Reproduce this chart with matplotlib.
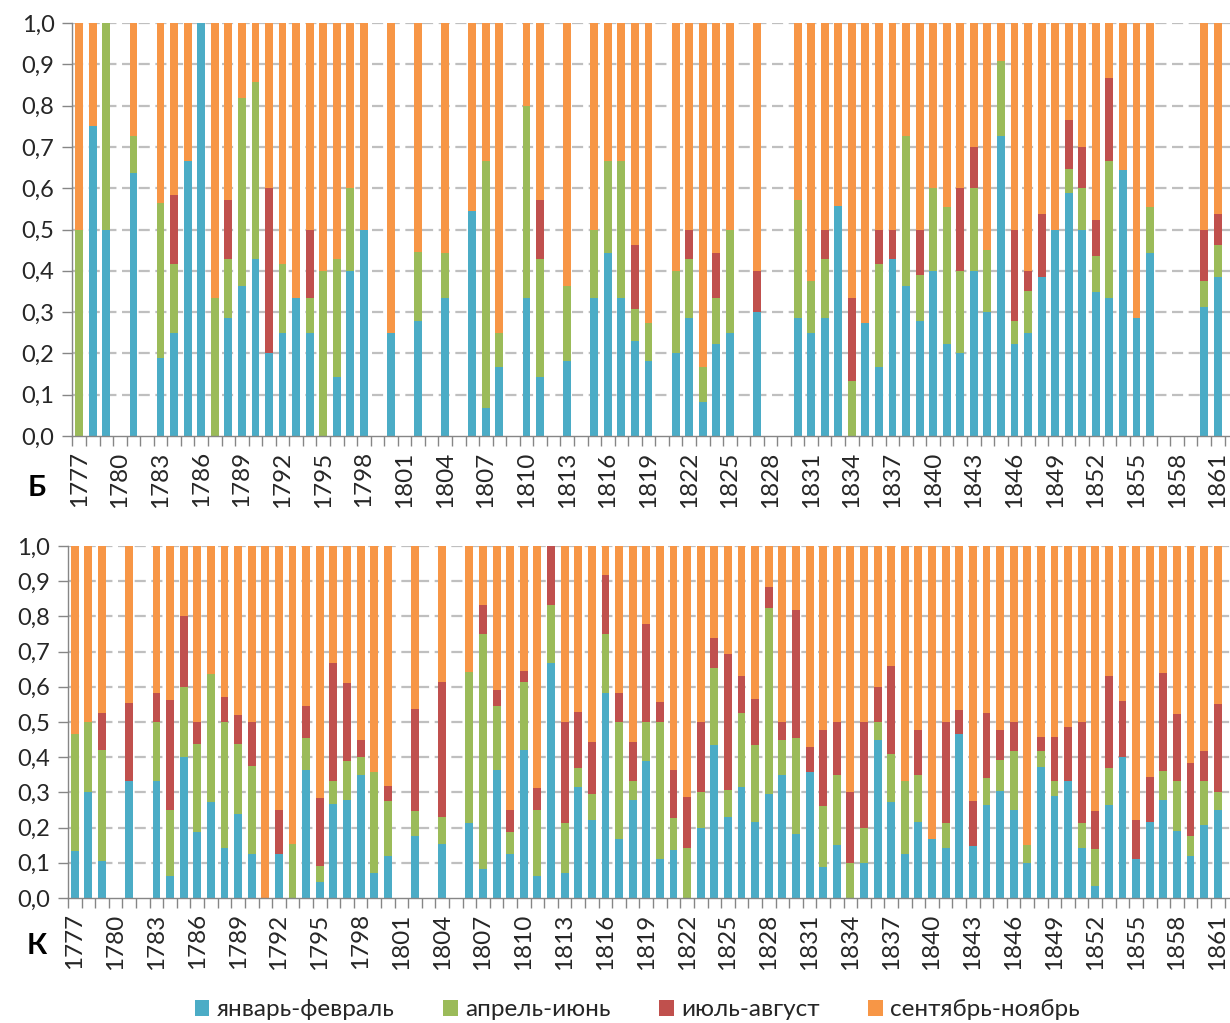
import numpy as np
import matplotlib
matplotlib.use("Agg")
import matplotlib.pyplot as plt
from matplotlib.patches import Patch
from matplotlib.ticker import FixedLocator, FuncFormatter

plt.rcParams['font.family'] = ['Lato', 'DejaVu Sans']

years = list(range(1777, 1862))
labels = ["январь-февраль", "апрель-июнь", "июль-август", "сентябрь-ноябрь"]
colors = ["#4BACC6", "#9BBB59", "#C0504D", "#F79646"]

# Б -- доли по сезонам, 1777..1861 (0 = нет данных)
jan_b = [0, 0.75, 0.5, 0, 0.636, 0, 0.188, 0.25, 0.667, 1.0,
         0, 0.286, 0.364, 0.429, 0.2, 0.25, 0.333, 0.25, 0, 0.143,
         0.4, 0.5, 0, 0.25, 0, 0.278, 0, 0.333, 0, 0.545,
         0.067, 0.167, 0, 0.333, 0.143, 0, 0.182, 0, 0.333, 0.444,
         0.333, 0.231, 0.182, 0, 0.2, 0.286, 0.083, 0.222, 0.25, 0,
         0.3, 0, 0, 0.286, 0.25, 0.286, 0.556, 0, 0.273, 0.167,
         0.429, 0.364, 0.278, 0.4, 0.222, 0.2, 0.4, 0.3, 0.727, 0.222,
         0.25, 0.385, 0.5, 0.588, 0.5, 0.348, 0.333, 0.645, 0.286, 0.444,
         0, 0, 0, 0.313, 0.385]
apr_b = [0.5, 0, 0.5, 0, 0.091, 0, 0.375, 0.167, 0, 0,
         0.333, 0.143, 0.455, 0.428, 0, 0.167, 0, 0.083, 0.4, 0.286,
         0.2, 0, 0, 0, 0, 0.167, 0, 0.111, 0, 0,
         0.6, 0.083, 0, 0.467, 0.286, 0, 0.182, 0, 0.167, 0.223,
         0.334, 0.077, 0.091, 0, 0.2, 0.143, 0.084, 0.111, 0.25, 0,
         0, 0, 0, 0.285, 0.125, 0.143, 0, 0.133, 0, 0.25,
         0, 0.363, 0.111, 0.2, 0.333, 0.2, 0.2, 0.15, 0.182, 0.056,
         0.1, 0, 0, 0.059, 0.1, 0.087, 0.334, 0, 0, 0.111,
         0, 0, 0, 0.062, 0.077]
jul_b = [0, 0, 0, 0, 0, 0, 0, 0.167, 0, 0,
         0, 0.143, 0, 0, 0.4, 0, 0, 0.167, 0, 0,
         0, 0, 0, 0, 0, 0, 0, 0, 0, 0,
         0, 0, 0, 0, 0.143, 0, 0, 0, 0, 0,
         0, 0.154, 0, 0, 0, 0.071, 0, 0.111, 0, 0,
         0.1, 0, 0, 0, 0, 0.071, 0, 0.2, 0, 0.083,
         0.071, 0, 0.111, 0, 0, 0.2, 0.1, 0, 0, 0.222,
         0.05, 0.153, 0, 0.118, 0.1, 0.087, 0.2, 0, 0, 0,
         0, 0, 0, 0.125, 0.076]
sep_b = [0.5, 0.25, 0, 0, 0.273, 0, 0.437, 0.416, 0.333, 0,
         0.667, 0.428, 0.181, 0.143, 0.4, 0.583, 0.667, 0.5, 0.6, 0.571,
         0.4, 0.5, 0, 0.75, 0, 0.555, 0, 0.556, 0, 0.455,
         0.333, 0.75, 0, 0.2, 0.428, 0, 0.636, 0, 0.5, 0.333,
         0.333, 0.538, 0.727, 0, 0.6, 0.5, 0.833, 0.556, 0.5, 0,
         0.6, 0, 0, 0.429, 0.625, 0.5, 0.444, 0.667, 0.727, 0.5,
         0.5, 0.273, 0.5, 0.4, 0.445, 0.4, 0.3, 0.55, 0.091, 0.5,
         0.6, 0.462, 0.5, 0.235, 0.3, 0.478, 0.133, 0.355, 0.714, 0.445,
         0, 0, 0, 0.5, 0.462]

# К
jan_k = [0.133, 0.3, 0.105, 0, 0.333, 0, 0.333, 0.063, 0.4, 0.188,
         0.273, 0.143, 0.238, 0.125, 0, 0.125, 0, 0.364, 0.045, 0.267,
         0.278, 0.35, 0.071, 0.118, 0, 0.176, 0, 0.154, 0, 0.212,
         0.083, 0.364, 0.125, 0.419, 0.063, 0.667, 0.071, 0.316, 0.222, 0.583,
         0.167, 0.278, 0.389, 0.111, 0.136, 0, 0.2, 0.435, 0.231, 0.316,
         0.217, 0.294, 0.35, 0.182, 0.357, 0.087, 0.15, 0, 0.1, 0.45,
         0.273, 0.125, 0.217, 0.167, 0.143, 0.467, 0.147, 0.263, 0.304, 0.25,
         0.1, 0.372, 0.289, 0.333, 0.143, 0.034, 0.263, 0.4, 0.111, 0.216,
         0.278, 0.19, 0.118, 0.208, 0.25]
apr_k = [0.334, 0.2, 0.316, 0, 0, 0, 0.167, 0.187, 0.2, 0.25,
         0.363, 0.357, 0.2, 0.25, 0, 0, 0.154, 0.091, 0.046, 0.066,
         0.111, 0.05, 0.286, 0.158, 0, 0.072, 0, 0.077, 0, 0.43,
         0.667, 0.182, 0.062, 0.194, 0.187, 0.166, 0.143, 0.053, 0.074, 0.167,
         0.333, 0.055, 0.111, 0.389, 0.091, 0.143, 0.1, 0.217, 0.077, 0.21,
         0.218, 0.53, 0.1, 0.272, 0, 0.174, 0.2, 0.1, 0.1, 0.05,
         0.136, 0.208, 0.131, 0, 0.071, 0, 0, 0.079, 0.087, 0.167,
         0.05, 0.045, 0.043, 0, 0.071, 0.105, 0.106, 0, 0, 0,
         0.084, 0.143, 0.059, 0.125, 0.05]
jul_k = [0, 0, 0.105, 0, 0.222, 0, 0.083, 0.313, 0.2, 0.062,
         0, 0.071, 0.081, 0.125, 0, 0.125, 0, 0.091, 0.194, 0.334,
         0.222, 0.05, 0, 0.042, 0, 0.289, 0, 0.384, 0, 0,
         0.083, 0.045, 0.063, 0.032, 0.062, 0.167, 0.286, 0.158, 0.148, 0.167,
         0.083, 0.111, 0.278, 0.056, 0.136, 0.143, 0.2, 0.087, 0.384, 0.105,
         0.13, 0.059, 0.05, 0.364, 0.072, 0.217, 0.15, 0.2, 0.3, 0.1,
         0.25, 0, 0.13, 0, 0.286, 0.066, 0.128, 0.184, 0.087, 0.083,
         0, 0.039, 0.124, 0.153, 0.286, 0.109, 0.263, 0.16, 0.111, 0.128,
         0.277, 0.19, 0.206, 0.084, 0.25]
sep_k = [0.533, 0.5, 0.474, 0, 0.445, 0, 0.417, 0.437, 0.2, 0.5,
         0.364, 0.429, 0.481, 0.5, 1.0, 0.75, 0.846, 0.454, 0.715, 0.333,
         0.389, 0.55, 0.643, 0.682, 0, 0.463, 0, 0.385, 0, 0.358,
         0.167, 0.409, 0.75, 0.355, 0.688, 0, 0.5, 0.473, 0.556, 0.083,
         0.417, 0.556, 0.222, 0.444, 0.637, 0.714, 0.5, 0.261, 0.308, 0.369,
         0.435, 0.117, 0.5, 0.182, 0.571, 0.522, 0.5, 0.7, 0.5, 0.4,
         0.341, 0.667, 0.522, 0.833, 0.5, 0.467, 0.725, 0.474, 0.522, 0.5,
         0.85, 0.544, 0.544, 0.514, 0.5, 0.752, 0.368, 0.44, 0.778, 0.656,
         0.361, 0.477, 0.617, 0.583, 0.45]

fig = plt.figure(figsize=(12.3, 10.23), dpi=100)
ax1 = fig.add_axes([0.0589, 0.5738, 0.9411, 0.4037])
ax2 = fig.add_axes([0.0553, 0.1222, 0.9447, 0.3441])

grid_col = "#BFBFBF"
axis_col = "#868686"


def draw(ax, series):
    x = np.array(years)
    bottom = np.zeros(len(years))
    for vals, c in zip(series, colors):
        vals = np.array(vals)
        ax.bar(x, vals, width=0.58, bottom=bottom, color=c, linewidth=0, zorder=3)
        bottom += vals
    ax.set_xlim(1776.5, 1861.9)
    ax.set_ylim(0, 1.0)
    ax.set_yticks(np.arange(0, 1.01, 0.1))
    ax.yaxis.set_major_formatter(FuncFormatter(lambda v, p: f"{v:.1f}".replace(".", ",")))
    for y in np.arange(0.1, 1.01, 0.1):
        ax.axhline(y, color=grid_col, lw=1.6, dashes=(5, 2.5), zorder=1)
    ax.set_xticks(years[::3])
    ax.set_xticklabels([str(y) for y in years[::3]], rotation=90)
    ax.xaxis.set_minor_locator(FixedLocator(np.arange(1776.5, 1862, 1)))
    ax.tick_params(axis='x', which='major', length=0, pad=11, labelsize=17.5, colors='#262626')
    ax.tick_params(axis='x', which='minor', length=7, width=1, color=axis_col, direction='out')
    ax.tick_params(axis='y', length=7, width=1, color=axis_col, labelsize=17,
                   labelcolor='#262626', pad=6)
    for s in ['top', 'right']:
        ax.spines[s].set_visible(False)
    for s in ['left', 'bottom']:
        ax.spines[s].set_color(axis_col)
        ax.spines[s].set_linewidth(1)
        ax.spines[s].set_zorder(4)


draw(ax1, [jan_b, apr_b, jul_b, sep_b])
draw(ax2, [jan_k, apr_k, jul_k, sep_k])

fig.text(37 / 1230, 1 - 488 / 1023, "Б", fontsize=21, fontweight='bold', ha='center', va='center')
fig.text(37 / 1230, 1 - 946 / 1023, "К", fontsize=21, fontweight='bold', ha='center', va='center')

handles = [Patch(facecolor=c, edgecolor='none') for c in colors]
fig.legend(handles, labels, loc='center', bbox_to_anchor=(0.518, 1 - 1010 / 1023), ncol=4,
           frameon=False, fontsize=17.5, handlelength=0.6, handleheight=0.6,
           handletextpad=0.3, columnspacing=2.0, labelcolor='#262626')

fig.savefig("out.png", dpi=100)
